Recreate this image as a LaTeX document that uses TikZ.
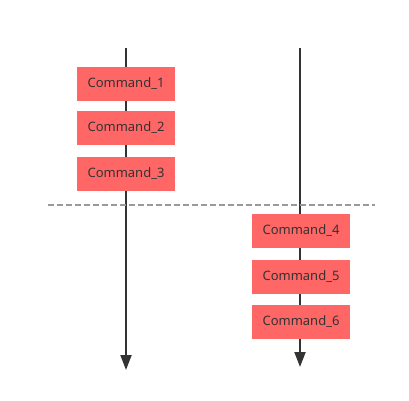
\documentclass[tikz,border=0pt]{standalone}
\usepackage{fontspec}
\setmainfont{Noto Sans}
\usetikzlibrary{arrows.meta}
\definecolor{boxred}{HTML}{FF6666}
\definecolor{txt}{HTML}{333333}
\definecolor{dashgray}{HTML}{999999}
\begin{document}
\begin{tikzpicture}[x=1pt,y=-1pt,
  cmdbox/.style={fill=boxred,draw=none,minimum width=98pt,minimum height=34pt,inner sep=0pt,text=txt,font=\fontsize{13}{15}\selectfont},
  timeline/.style={draw=txt,line width=2pt,-{Triangle[length=15pt,width=11pt]}}]
\useasboundingbox (0,0) rectangle (409,400);
\coordinate (ltop) at (126,48);
\coordinate (lbot) at (126,370);
\coordinate (rtop) at (300,48);
\coordinate (rbot) at (300,367);
\coordinate (dl) at (48,205);
\coordinate (dr) at (375,205);
\draw[timeline] (ltop) -- (lbot);
\draw[timeline] (rtop) -- (rbot);
\draw[dashgray,line width=1.3pt,dash pattern=on 6pt off 3pt] (dl) -- (dr);
\node[cmdbox] (c1) at (126,84) {Command\_1};
\node[cmdbox] (c2) at (126,128) {Command\_2};
\node[cmdbox] (c3) at (126,174) {Command\_3};
\node[cmdbox] (c4) at (301,231) {Command\_4};
\node[cmdbox] (c5) at (301,276.5) {Command\_5};
\node[cmdbox] (c6) at (301,322) {Command\_6};
\end{tikzpicture}
\end{document}
